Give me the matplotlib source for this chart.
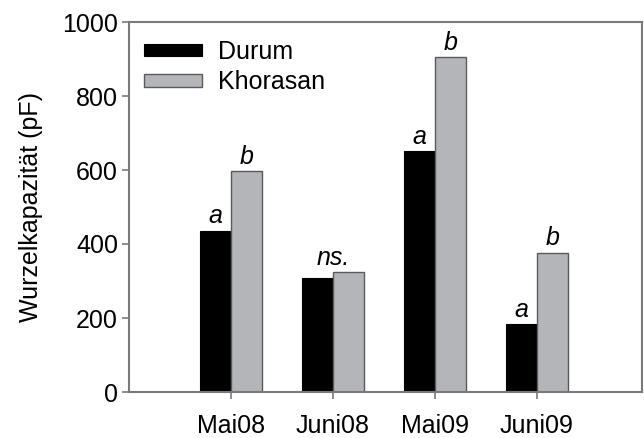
import matplotlib.pyplot as plt
import numpy as np

plt.rcParams['font.family'] = ['Liberation Sans', 'DejaVu Sans']

# 数据
termine = ['Mai08', 'Juni08', 'Mai09', 'Juni09']
durum = [436, 307, 652, 183]
khorasan = [598, 324, 906, 377]
buchst_durum = ['a', '', 'a', 'a']
buchst_khorasan = ['b', 'ns.', 'b', 'b']

fs = 18
fig = plt.figure(figsize=(6.44, 4.38), dpi=100)
ax = fig.add_axes([129 / 644, 1 - 392 / 438, 513 / 644, 370 / 438])

x = np.arange(1, len(termine) + 1)
w = 0.3
achsfarbe = '#7a7a7a'

ax.bar(x - w / 2, durum, w, color='black', edgecolor='black', linewidth=0.8, label='Durum')
ax.bar(x + w / 2, khorasan, w, color='#b4b5b9', edgecolor='#5a5a5a', linewidth=1.0, label='Khorasan')

# Signifikanzbuchstaben
for xi, v, t in zip(x, durum, buchst_durum):
    if t:
        ax.text(xi - w / 2, v + 6, t, ha='center', va='bottom', fontsize=fs, style='italic')
for xi, v, t in zip(x, khorasan, buchst_khorasan):
    if t:
        ax.text(xi + w / 2 if t != 'ns.' else xi, v + 6, t, ha='center', va='bottom',
                fontsize=fs, style='italic')

ax.set_xlim(0, 5.03)
ax.set_ylim(0, 1000)
ax.set_yticks(range(0, 1001, 200))
ax.set_xticks(x)
ax.set_xticklabels(termine)
ax.set_ylabel('Wurzelkapazität (pF)', fontsize=fs, labelpad=14)
ax.tick_params(axis='both', labelsize=fs, color=achsfarbe, length=5, width=1.2, pad=3)
ax.tick_params(axis='x', pad=11)
for s in ax.spines.values():
    s.set_color(achsfarbe)
    s.set_linewidth(1.5)

ax.legend(loc='upper left', bbox_to_anchor=(-0.014, 1.012), frameon=False, fontsize=fs,
          handlelength=2.32, handleheight=0.4, labelspacing=0.25, handletextpad=0.64)

fig.savefig('out.png', dpi=100)
